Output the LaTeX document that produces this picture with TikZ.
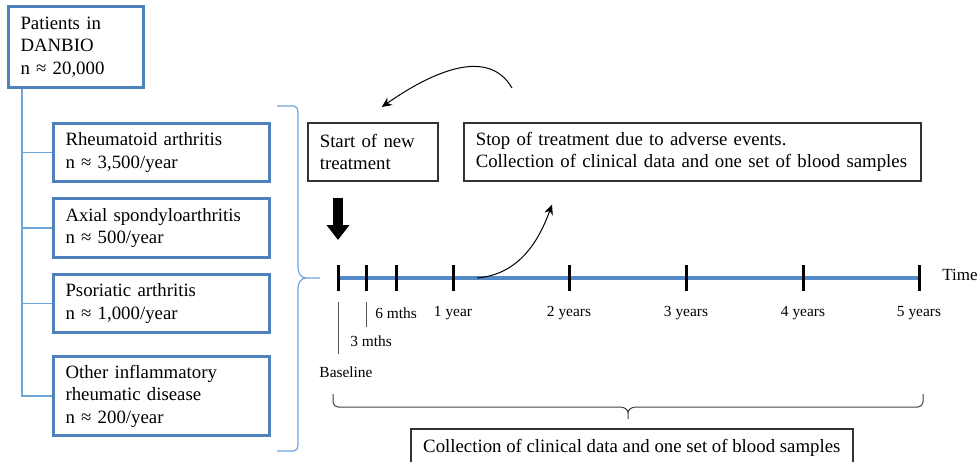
\documentclass[tikz,border=0pt]{standalone}
\usepackage{fontspec}
\setmainfont{Liberation Serif}
\usepackage{tikz}
\usetikzlibrary{arrows.meta}
\usepackage{xcolor}
\definecolor{boxblue}{RGB}{79,129,189}
\definecolor{linkblue}{RGB}{110,165,218}
\definecolor{axisblue}{RGB}{84,138,198}
\newcommand{\boxfont}{\fontsize{9.4}{11.25}\selectfont}
\newcommand{\tickfont}{\fontsize{7.7}{9}\selectfont}

\begin{document}
\begin{tikzpicture}[
    x=0.5pt, y=0.5pt,
    group/.style={draw=boxblue, line width=1.5pt, anchor=north west, align=left, inner xsep=6pt, inner ysep=0pt, font=\boxfont},
    event/.style={draw=black!80, line width=0.8pt, anchor=north west, align=left, inner xsep=6pt, inner ysep=0pt, font=\boxfont},
    treeline/.style={draw=linkblue, line width=0.6pt},
    groupbrace/.style={draw=linkblue, line width=0.6pt},
    spanbrace/.style={draw=black!75, line width=0.5pt},
    axis/.style={draw=axisblue, line width=2pt},
    tickmark/.style={draw=black, line width=1.5pt},
    pointer/.style={draw=black!65, line width=0.5pt},
    ticklabel/.style={font=\tickfont, inner sep=1pt},
    bigarrow/.style={-{Triangle[length=7.5pt, width=11pt]}, line width=5pt},
    thinarrow/.style={-{Stealth[length=5pt, width=4.5pt]}, line width=0.5pt}
]
\useasboundingbox (0,0) rectangle (979,-461);
\clip (0,0) rectangle (979,-461);

% Patient groups
\node[group, text width=55.5pt, minimum height=40.5pt] (danbio) at (7,-5) {Patients in\\DANBIO\\n ≈ 20,000};
\node[group, text width=96pt, minimum height=29pt] (ra) at (52,-122) {Rheumatoid arthritis\\n ≈ 3,500/year};
\node[group, text width=96pt, minimum height=29.5pt] (axspa) at (52,-197) {Axial spondyloarthritis\\n ≈ 500/year};
\node[group, text width=96pt, minimum height=29pt] (psa) at (52,-273) {Psoriatic arthritis\\n ≈ 1,000/year};
\node[group, text width=96pt, minimum height=39.5pt] (other) at (52,-355) {Other inflammatory\\rheumatic disease\\n ≈ 200/year};

\foreach \grp in {ra, axspa, psa, other}
    \draw[treeline] ([xshift=7.5pt]danbio.south west) |- (\grp.west);

% Brace round the groups
\coordinate (gtop) at (277,-106);
\coordinate (gtip) at (320,-278);
\coordinate (gbot) at (277,-451);
\draw[groupbrace] (gtop) -- ++(17,0) to[out=0, in=90] ++(4,-6) -- (298,-268) to[out=-90, in=180] (306,-278) -- (gtip)
    (gtip) -- (306,-278) to[out=180, in=90] (298,-288) -- (298,-445) to[out=-90, in=0] ++(-4,-6) -- (gbot);

% Events
\node[event, text width=53pt, minimum height=29pt] (start) at (307,-122) {Start of new\\treatment};
\node[event, text width=216.5pt, minimum height=29pt] (stop) at (463,-122) {Stop of treatment due to adverse events.\\Collection of clinical data and one set of blood samples};

% Timeline
\foreach \tname/\tx in {t0/338, t1/366, t2/396, t3/453, t4/569, t5/686, t6/803, t7/919}
    \coordinate (\tname) at (\tx,-278);
\draw[axis] (t0) -- (t7);
\foreach \tname in {t0, t1, t2, t3, t4, t5, t6, t7}
    \draw[tickmark] ([yshift=6.5pt]\tname) -- ([yshift=-6.5pt]\tname);

\foreach \tname/\lab in {t2/6 mths, t3/1 year, t4/2 years, t5/3 years, t6/4 years, t7/5 years}
    \node[ticklabel] (l\tname) at ([yshift=-17.5pt]\tname) {\lab};
\node[ticklabel] (lt1) at ([xshift=2.5pt, yshift=-31.5pt]t1) {3 mths};
\node[ticklabel] (lt0) at ([xshift=4pt, yshift=-47pt]t0) {Baseline};
\draw[pointer] ([yshift=-12pt]t1) -- ([yshift=-24.5pt]t1);
\draw[pointer] ([yshift=-12pt]t0) -- ([yshift=-38pt]t0);
\node[anchor=west, font=\fontsize{8.5}{10}\selectfont, inner sep=0pt] (timelab) at ([xshift=11.5pt, yshift=1.5pt]t7) {Time};

% Arrows
\draw[bigarrow] ([yshift=-8pt]start.south -| t0) -- ([yshift=19pt]t0);
\draw[thinarrow] ([xshift=24.5pt, yshift=17pt]stop.north west) to[out=120, in=35] ([xshift=4.5pt, yshift=7.5pt]start.north);
\coordinate (stopfrom) at ([xshift=12pt]t3);
\draw[thinarrow] (stopfrom) to[out=5, in=250] ([xshift=44.5pt, yshift=-11.5pt]stop.south west);

% Follow-up span
\coordinate (sleft) at (333,-394);
\coordinate (stip) at (628,-419);
\coordinate (sright) at (923,-394);
\draw[spanbrace] (sleft) -- ++(0,-8) to[out=-90, in=180] ++(5,-5) -- (620,-407) to[out=0, in=90] (628,-413) -- (stip)
    (stip) -- (628,-413) to[out=90, in=180] (636,-407) -- (918,-407) to[out=0, in=-90] ++(5,5) -- (sright);
\node[event, align=center, minimum width=221pt, minimum height=19pt] (collect) at (410,-428) {Collection of clinical data and one set of blood samples};

\end{tikzpicture}
\end{document}
